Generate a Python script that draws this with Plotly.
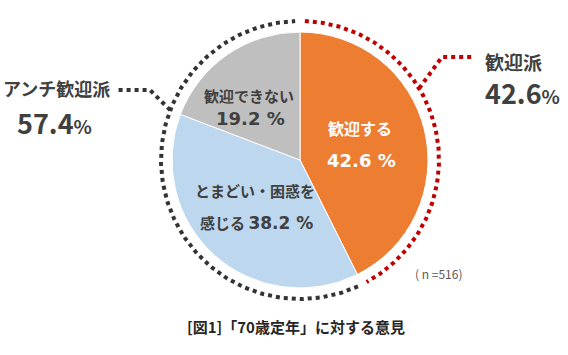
import numpy as np
import plotly.graph_objects as go

# ---- data ----
categories = ["歓迎する", "とまどい・困惑を感じる", "歓迎できない"]
values = [42.6, 38.2, 19.2]
colors = ["#ED7D31", "#BDD7EE", "#BFBFBF"]
group_labels = ["歓迎派", "アンチ歓迎派"]
group_values = [42.6, 57.4]
caption = "[図1]「70歳定年」に対する意見"
sample_note = "( n =516)"

W, H = 568, 355
cx, cy, R = 300, 160, 128
ring_r = 139
FONT = "Noto Sans CJK JP"
TXT = "#404040"

fig = go.Figure()

# pie
fig.add_trace(go.Pie(
    labels=categories, values=values, sort=False, direction="clockwise", rotation=0,
    marker=dict(colors=colors, line=dict(color="#ffffff", width=1)),
    textinfo="none", hoverinfo="label+percent", showlegend=False,
    domain=dict(x=[(cx - R) / W, (cx + R) / W], y=[1 - (cy + R) / H, 1 - (cy - R) / H]),
))

def arc(a0, a1, r, n=200):
    t = np.radians(np.linspace(a0, a1, n))
    return cx + r * np.sin(t), cy - r * np.cos(t)

# dotted ring: red for 歓迎派, dark for アンチ歓迎派
split = group_values[0] / 100 * 360
xr, yr = arc(2, split - 2, ring_r)
xb, yb = arc(split + 2, 358, ring_r)
dash = "4px,4px"
fig.add_trace(go.Scatter(x=xr, y=yr, mode="lines", line=dict(color="#C00000", width=4, dash=dash),
                         hoverinfo="skip", showlegend=False))
fig.add_trace(go.Scatter(x=xb, y=yb, mode="lines", line=dict(color="#333333", width=4, dash=dash),
                         hoverinfo="skip", showlegend=False))

# connectors
def ring_pt(a):
    t = np.radians(a)
    return cx + ring_r * np.sin(t), cy - ring_r * np.cos(t)

px, py = ring_pt(59)
fig.add_trace(go.Scatter(x=[px, 442, 472], y=[py, 57, 57], mode="lines",
                         line=dict(color="#C00000", width=4, dash=dash), hoverinfo="skip", showlegend=False))
px, py = ring_pt(291)
fig.add_trace(go.Scatter(x=[px, 150, 116], y=[py, 90, 90], mode="lines",
                         line=dict(color="#333333", width=4, dash=dash), hoverinfo="skip", showlegend=False))

ann = []
def add(x, y, text, size, color=TXT, bold=True, xanchor="center", family=FONT):
    ann.append(dict(x=x, y=y, xref="x", yref="y", text=("<b>%s</b>" % text) if bold else text,
                    showarrow=False, xanchor=xanchor, yanchor="middle",
                    font=dict(family=family, size=size, color=color)))

NUMF = "DejaVu Sans, " + FONT

# slice labels
add(249, 95, categories[2], 15)
add(250, 118, "%.1f %%" % values[2], 18, family=NUMF)
add(360, 128, categories[0], 16, color="#FFFFFF")
add(361, 160, "%.1f %%" % values[0], 18, color="#FFFFFF", family=NUMF)
add(255, 190, "とまどい・困惑を", 15)
ann.append(dict(x=256, y=222, xref="x", yref="y", showarrow=False, xanchor="center", yanchor="middle",
                text="<b>感じる <span style='font-family:DejaVu Sans;font-size:17px'>%.1f %%</span></b>" % values[1],
                font=dict(family=FONT, size=15, color=TXT)))

# group labels
add(483, 61, group_labels[0], 19, xanchor="left")
add(483, 92, "%.1f<span style='font-size:19px'>%%</span>" % group_values[0], 27, xanchor="left")
add(56, 88, group_labels[1], 18)
add(54, 122, "%.1f<span style='font-size:19px'>%%</span>" % group_values[1], 27)

# note and caption
add(438, 273, sample_note, 12, color="#595959", bold=False)
add(296, 326, caption, 15, color="#262626")

fig.update_layout(
    width=W, height=H, margin=dict(l=0, r=0, t=0, b=0),
    paper_bgcolor="white", plot_bgcolor="white",
    xaxis=dict(range=[0, W], visible=False, fixedrange=True),
    yaxis=dict(range=[H, 0], visible=False, fixedrange=True),
    annotations=ann,
)
fig.write_html("out.html")
